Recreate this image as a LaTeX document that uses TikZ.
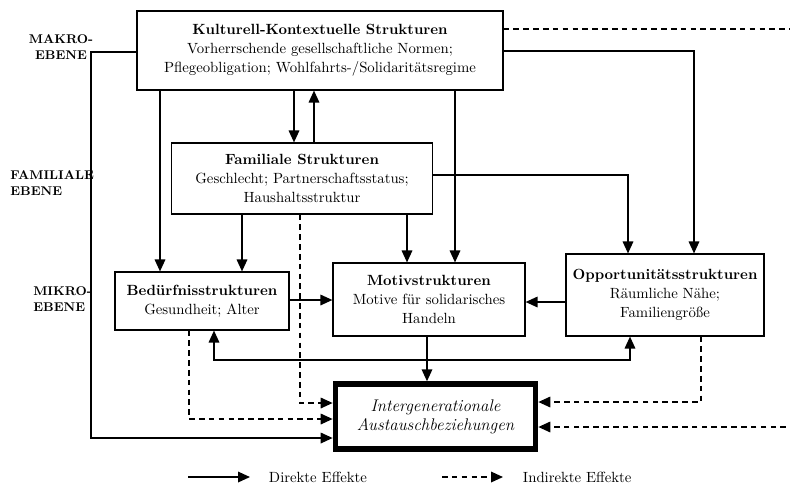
\documentclass[tikz,border=0pt]{standalone}
\usetikzlibrary{arrows.meta}

\tikzset{
  box/.style={draw, line width=0.8pt, align=center, inner sep=2pt,
    font=\fontsize{10.5}{13.5}\selectfont},
  direkt/.style={line width=1.1pt, -{Triangle[length=8.5pt,width=7.5pt]}},
  indirekt/.style={direkt, dash pattern=on 4pt off 3pt},
  ebene/.style={font=\bfseries\small, align=left, inner sep=0pt},
  legende/.style={anchor=west, font=\fontsize{10.5}{13.5}\selectfont}
}

\begin{document}
\begin{tikzpicture}[x=0.025cm, y=-0.025cm]
    \useasboundingbox (0,0) rectangle (790,483);

    % Ebenen
    \node[ebene, align=center] (makro) at (61,47) {MAKRO-\\EBENE};
    \node[ebene, anchor=west] (famebene) at (10,183) {FAMILIALE\\EBENE};
    \node[ebene, anchor=west] (mikro) at (33,299) {MIKRO-\\EBENE};

    % Strukturen
    \node[box, minimum width=9.15cm, minimum height=1.975cm] (kultur) at (320,50.5)
        {\textbf{Kulturell-Kontextuelle Strukturen}\\Vorherrschende gesellschaftliche Normen;\\Pflegeobligation; Wohlfahrts-/Solidarit\"atsregime};
    \node[box, minimum width=6.525cm, minimum height=1.775cm] (famil) at (302,178.5)
        {\textbf{Familiale Strukturen}\\Geschlecht; Partnerschaftsstatus;\\Haushaltsstruktur};
    \node[box, minimum width=4.35cm, minimum height=1.45cm] (bedarf) at (202,301)
        {\textbf{Bed\"urfnisstrukturen}\\Gesundheit; Alter};
    \node[box, minimum width=4.8cm, minimum height=1.825cm] (motiv) at (429,299.5)
        {\textbf{Motivstrukturen}\\Motive f\"ur solidarisches\\Handeln};
    \node[box, minimum width=4.95cm, minimum height=2.05cm] (oppor) at (665,295)
        {\textbf{Opportunit\"atsstrukturen}\\R\"aumliche N\"ahe;\\Familiengr\"o\ss e};
    \node[box, line width=4pt, minimum width=5.0cm, minimum height=1.62cm] (aus) at (435.5,416.5)
        {\large\itshape Intergenerationale\\\large\itshape Austauschbeziehungen};

    % direkte Effekte
    \draw[direkt] (kultur.west |- 0,52) -| (91,438) -- (aus.west |- 0,438);
    \draw[direkt] (160,0 |- kultur.south) -- (160,0 |- bedarf.north);
    \draw[direkt] (294,0 |- kultur.south) -- (294,0 |- famil.north);
    \draw[direkt] (314,0 |- famil.north) -- (314,0 |- kultur.south);
    \draw[direkt] (455,0 |- kultur.south) -- (455,0 |- motiv.north);
    \draw[direkt] (kultur.east |- 0,51) -| (694,0 |- oppor.north);
    \draw[direkt] (242,0 |- famil.south) -- (242,0 |- bedarf.north);
    \draw[direkt] (407,0 |- famil.south) -- (407,0 |- motiv.north);
    \draw[direkt] (famil.east |- 0,175) -| (628,0 |- oppor.north);
    \draw[direkt] (bedarf.east |- 0,300) -- (motiv.west |- 0,300);
    \draw[direkt] (oppor.west |- 0,302) -- (motiv.east |- 0,302);
    \draw[direkt] (427,0 |- motiv.south) -- (427,0 |- aus.north);
    \draw[direkt, {Triangle[length=8.5pt,width=7.5pt]}-{Triangle[length=8.5pt,width=7.5pt]}]
        (214,0 |- bedarf.south) |- (630,360) -- (630,0 |- oppor.south);

    % indirekte Effekte
    \draw[indirekt] (kultur.east |- 0,29) -- (810,29) |- (aus.east |- 0,427);
    \draw[indirekt] (300,0 |- famil.south) |- (aus.west |- 0,403);
    \draw[indirekt] (189,0 |- bedarf.south) |- (aus.west |- 0,419);
    \draw[indirekt] (701,0 |- oppor.south) |- (aus.east |- 0,402);

    % Legende
    \coordinate (d1) at (188,477);
    \coordinate (d2) at (250,477);
    \coordinate (i1) at (442,477);
    \coordinate (i2) at (503,477);
    \node[legende] (ldirekt) at (264,477) {Direkte Effekte};
    \node[legende] (lindirekt) at (518,477) {Indirekte Effekte};
    \draw[direkt] (d1) -- (d2);
    \draw[indirekt] (i1) -- (i2);
\end{tikzpicture}
\end{document}
